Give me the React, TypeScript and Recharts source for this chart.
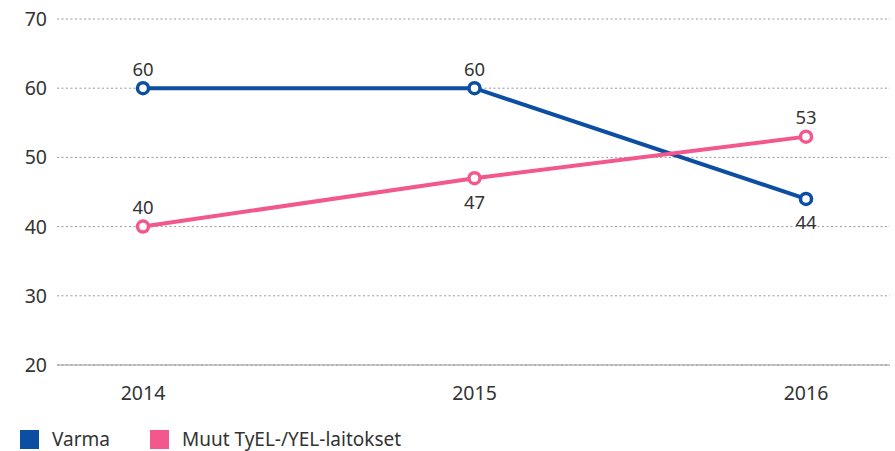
import { CartesianGrid, LabelList, Legend, Line, LineChart, XAxis, YAxis } from 'recharts'

const years = ['2014', '2015', '2016']
const varma = [60, 60, 44]
const muut = [40, 47, 53]
const yTicks = [20, 30, 40, 50, 60, 70]

const seriesNames = ['Varma', 'Muut TyEL-/YEL-laitokset']
const colors = ['#0b4ea2', '#f2588d']

// where each value label sits relative to its point
const varmaLabelAbove = [true, true, false]
const muutLabelAbove = [true, false, true]

const chartData = years.map((year, i) => ({
  year,
  varma: varma[i],
  muut: muut[i],
}))

const font = '"Source Sans Pro", "Noto Sans", sans-serif'

function makeLabel(above: boolean[]) {
  return (props: any) => {
    const { x, y, index, value } = props
    return (
      <text
        x={x}
        y={above[index] ? y - 20 : y + 23}
        textAnchor="middle"
        dominantBaseline="central"
        fill="#333"
        fontSize={18.5}
        fontFamily={font}
      >
        {value}
      </text>
    )
  }
}

function LegendContent() {
  return (
    <div style={{ display: 'flex', alignItems: 'center', paddingLeft: 20, paddingTop: 4, fontFamily: font, fontSize: 19, lineHeight: '19px', color: '#333' }}>
      {seriesNames.map((name, i) => (
        <div key={name} style={{ display: 'flex', alignItems: 'center', marginRight: 40 }}>
          <span style={{ display: 'inline-block', width: 19, height: 19, background: colors[i], marginRight: 13 }} />
          <span>{name}</span>
        </div>
      ))}
    </div>
  )
}

function App() {
  return (
    <div style={{ width: 895, height: 451, overflow: 'hidden' }}>
      <style>{'html, body { margin: 0; overflow: hidden; }'}</style>
      <LineChart
        width={895}
        height={451}
        data={chartData}
        margin={{ top: 19, right: 5, left: 0, bottom: 0 }}
        style={{ fontFamily: font }}
      >
        <CartesianGrid vertical={false} stroke="#999" strokeDasharray="2 2.5" />
        <XAxis
          dataKey="year"
          axisLine={{ stroke: '#999' }}
          tickLine={false}
          tickMargin={15}
          height={40}
          padding={{ left: 86, right: 84 }}
          tick={{ fill: '#333', fontSize: 19.5 }}
        />
        <YAxis
          domain={[20, 70]}
          ticks={yTicks}
          width={57}
          axisLine={false}
          tickLine={false}
          tickMargin={4}
          tick={{ fill: '#333', fontSize: 19.5 }}
        />
        <Legend
          height={46}
          verticalAlign="bottom"
          wrapperStyle={{ top: 426, bottom: 'auto', left: 0 }}
          content={<LegendContent />}
        />
        <Line
          dataKey="varma"
          name={seriesNames[0]}
          stroke={colors[0]}
          strokeWidth={4}
          dot={{ r: 5.5, fill: '#fff', stroke: colors[0], strokeWidth: 3.5 }}
          isAnimationActive={false}
        >
          <LabelList dataKey="varma" content={makeLabel(varmaLabelAbove)} />
        </Line>
        <Line
          dataKey="muut"
          name={seriesNames[1]}
          stroke={colors[1]}
          strokeWidth={4}
          dot={{ r: 5.5, fill: '#fff', stroke: colors[1], strokeWidth: 3.5 }}
          isAnimationActive={false}
        >
          <LabelList dataKey="muut" content={makeLabel(muutLabelAbove)} />
        </Line>
      </LineChart>
    </div>
  )
}

export default App
